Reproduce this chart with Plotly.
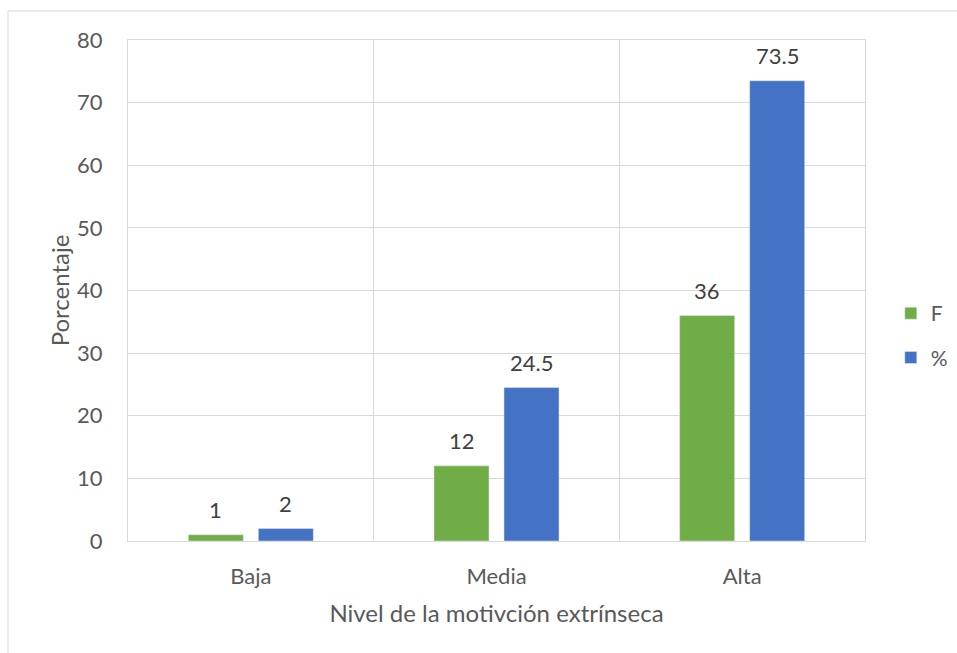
import plotly.graph_objects as go

categories = ["Baja", "Media", "Alta"]
f_values = [1, 12, 36]
pct_values = [2, 24.5, 73.5]
f_labels = ["1", "12", "36"]
pct_labels = ["2", "24.5", "73.5"]
y_ticks = [0, 10, 20, 30, 40, 50, 60, 70, 80]

GRID = "#d9d9d9"
TXT = "#595959"
FONT = "Lato"

fig = go.Figure()
fig.add_trace(go.Bar(name="F", x=categories, y=f_values, marker_color="#70AD47",
                     legendgroup="f"))
fig.add_trace(go.Bar(name="%", x=categories, y=pct_values, marker_color="#4472C4",
                     legendgroup="p"))

annotations = []
for cat, v, lab in zip(categories, f_values, f_labels):
    annotations.append(dict(x=cat, y=v, text=lab, showarrow=False, xshift=-35,
                            yshift=25, font=dict(size=22, color="#404040", family=FONT)))
for cat, v, lab in zip(categories, pct_values, pct_labels):
    annotations.append(dict(x=cat, y=v, text=lab, showarrow=False, xshift=35,
                            yshift=25, font=dict(size=22, color="#404040", family=FONT)))

fig.update_layout(
    width=957, height=653,
    margin=dict(l=128, r=92, t=40, b=112, autoexpand=False),
    paper_bgcolor="white", plot_bgcolor="white",
    barmode="group", bargap=0.43, bargroupgap=0.214,
    font=dict(family=FONT, color=TXT, size=20),
    legend=dict(x=1.035, y=0.41, xanchor="left", yanchor="middle",
                font=dict(size=21, color=TXT, family=FONT), tracegroupgap=14,
                itemwidth=30),
    annotations=annotations,
    xaxis=dict(tickson="boundaries", showgrid=True, gridcolor=GRID, gridwidth=1,
               showline=True, linecolor=GRID, linewidth=1, mirror=True,
               ticks="", ticklabelstandoff=16, tickfont=dict(size=22, color=TXT),
               title=dict(text="Nivel de la motivción extrínseca", standoff=16,
                          font=dict(size=24, color=TXT))),
    yaxis=dict(range=[0, 80], tickvals=y_ticks, showgrid=True, gridcolor=GRID,
               showline=True, linecolor=GRID, linewidth=1, mirror=True,
               zeroline=False, ticks="", ticklabelstandoff=20,
               tickfont=dict(size=22, color=TXT),
               title=dict(text="Porcentaje", standoff=0,
                          font=dict(size=24, color=TXT))),
    shapes=[dict(type="rect", xref="paper", yref="paper",
                 x0=(8 - 128) / 737, x1=(1000 - 128) / 737,
                 y0=(541 - 700) / 501, y1=(541 - 11) / 501,
                 line=dict(color=GRID, width=1), fillcolor="rgba(0,0,0,0)",
                 layer="below")],
)

fig.write_html("out.html")
